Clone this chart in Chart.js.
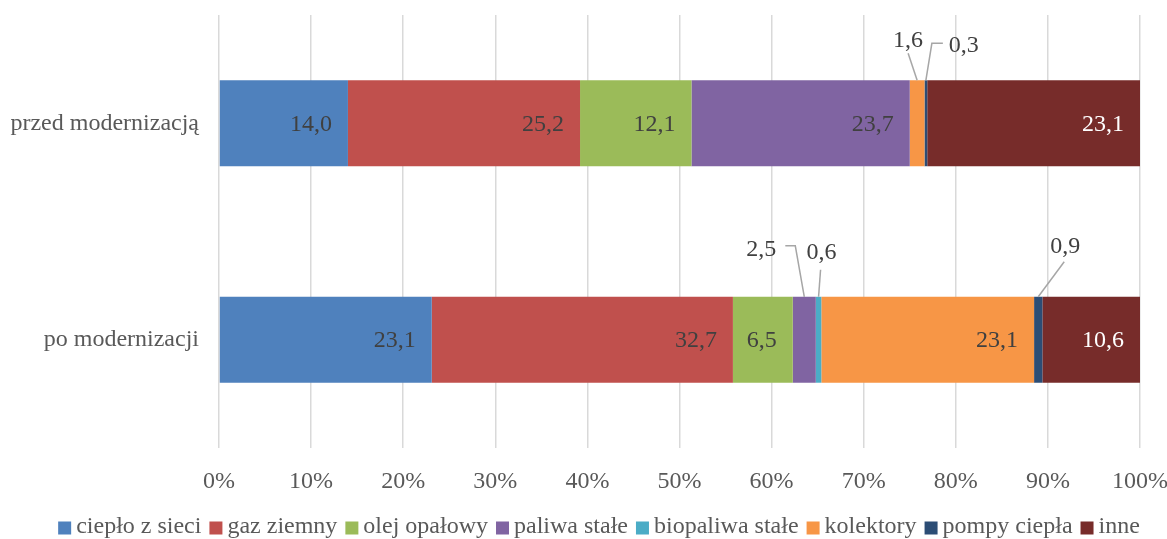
<!DOCTYPE html>
<html>
<head>
<meta charset="utf-8">
<script src="https://cdn.jsdelivr.net/npm/chart.js@4/dist/chart.umd.min.js"></script>
<style>
html,body{margin:0;padding:0;background:#fff;}
#wrap{width:1167px;height:539px;}
</style>
</head>
<body>
<div id="wrap"><canvas id="c" width="1167" height="539"></canvas></div>
<script>
const categories = ['przed modernizacją', 'po modernizacji'];
const seriesNames = ['ciepło z sieci', 'gaz ziemny', 'olej opałowy', 'paliwa stałe', 'biopaliwa stałe', 'kolektory', 'pompy ciepła', 'inne'];
const cieploZSieci   = [14.0, 23.1];
const gazZiemny      = [25.2, 32.7];
const olejOpalowy    = [12.1, 6.5];
const paliwaStale    = [23.7, 2.5];
const biopaliwaStale = [0.0, 0.6];
const kolektory      = [1.6, 23.1];
const pompyCiepla    = [0.3, 0.9];
const inne           = [23.1, 10.6];
const tickValues = [0, 10, 20, 30, 40, 50, 60, 70, 80, 90, 100];

const seriesValues = [cieploZSieci, gazZiemny, olejOpalowy, paliwaStale, biopaliwaStale, kolektory, pompyCiepla, inne];
const colors = ['#4F81BD', '#C0504D', '#9BBB59', '#8064A2', '#4BACC6', '#F79646', '#2C4D75', '#772C2A'];
const labelColors = ['#404040', '#404040', '#404040', '#404040', '#404040', '#404040', '#404040', '#FFFFFF'];

// callout label placement (styling): key "dataset-index": text offset and leader points relative to segment top-center
const callouts = {
  '5-0': {tx: -9, ty: -40, leader: [[0, 0], [-9, -27]]},
  '6-0': {tx: 38, ty: -35, leader: [[0, 0], [6, -37], [17, -37]]},
  '3-1': {tx: -43, ty: -47, leader: [[0, 0], [-9, -51], [-19, -51]]},
  '4-1': {tx: 3, ty: -44, leader: [[0, 0], [2, -27]]},
  '6-1': {tx: 27, ty: -50, leader: [[0, 0], [26, -35]]}
};

const FONT = "'Liberation Serif', 'Times New Roman', serif";

const fmt = v => v.toFixed(1).replace('.', ',');

const labelPlugin = {
  id: 'labels',
  afterDatasetsDraw(chart) {
    const ctx = chart.ctx;
    ctx.save();
    ctx.font = '24px ' + FONT;
    chart.data.datasets.forEach((ds, di) => {
      const meta = chart.getDatasetMeta(di);
      meta.data.forEach((el, i) => {
        const v = ds.data[i];
        if (!v) return;
        const key = di + '-' + i;
        const top = el.y - el.height / 2;
        if (callouts[key]) {
          const c = callouts[key];
          const cx = (el.x + el.base) / 2;
          ctx.strokeStyle = '#A6A6A6';
          ctx.lineWidth = 1.5;
          ctx.beginPath();
          c.leader.forEach((p, k) => {
            if (k === 0) ctx.moveTo(cx + p[0], top + p[1]);
            else ctx.lineTo(cx + p[0], top + p[1]);
          });
          ctx.stroke();
          ctx.fillStyle = '#404040';
          ctx.textAlign = 'center';
          ctx.textBaseline = 'middle';
          ctx.fillText(fmt(v), cx + c.tx, top + c.ty);
        } else {
          ctx.fillStyle = labelColors[di];
          ctx.textAlign = 'right';
          ctx.textBaseline = 'middle';
          ctx.fillText(fmt(v), el.x - 16, el.y + 1);
        }
      });
    });
    ctx.restore();
  }
};

const legendPlugin = {
  id: 'customLegend',
  afterDraw(chart) {
    const ctx = chart.ctx;
    ctx.save();
    ctx.font = '24px ' + FONT;
    const box = 13, gap = 5, spacing = 8;
    const items = chart.data.datasets.map(d => ({text: d.label, color: d.backgroundColor, w: ctx.measureText(d.label).width}));
    let total = 0;
    items.forEach((it, k) => { total += box + gap + it.w + (k < items.length - 1 ? spacing : 0); });
    let x = 599 - total / 2;
    const y = 527;
    items.forEach(it => {
      ctx.fillStyle = it.color;
      ctx.fillRect(x, y - box / 2 + 1, box, box);
      x += box + gap;
      ctx.fillStyle = '#595959';
      ctx.textAlign = 'left';
      ctx.textBaseline = 'middle';
      ctx.fillText(it.text, x, y);
      x += it.w + spacing;
    });
    ctx.restore();
  }
};

const zeroPad = s => { s.paddingLeft = 0; s.paddingRight = 0; s.paddingTop = 0; s.paddingBottom = 0; };

new Chart(document.getElementById('c'), {
  type: 'bar',
  data: {
    labels: categories,
    datasets: seriesNames.map((name, k) => ({
      label: name,
      data: seriesValues[k],
      backgroundColor: colors[k],
      borderWidth: 0,
      barPercentage: 0.397,
      categoryPercentage: 1.0
    }))
  },
  options: {
    indexAxis: 'y',
    responsive: false,
    animation: false,
    layout: {padding: {top: 15, right: 27, left: 0, bottom: 31}},
    plugins: {legend: {display: false}, tooltip: {enabled: false}},
    scales: {
      x: {
        stacked: true,
        min: 0, max: 100,
        afterBuildTicks: s => { s.ticks = tickValues.map(v => ({value: v})); },
        afterFit: s => { s.height = 60; zeroPad(s); },
        ticks: {
          callback: v => v + '%',
          color: '#595959',
          font: {family: FONT, size: 24},
          padding: 19,
          maxRotation: 0
        },
        grid: {color: '#D9D9D9', lineWidth: 1.5, drawTicks: false},
        border: {display: false}
      },
      y: {
        stacked: true,
        afterFit: s => { s.width = 219; zeroPad(s); },
        ticks: {
          color: '#595959',
          font: {family: FONT, size: 24},
          padding: 20
        },
        grid: {display: false, drawTicks: false},
        border: {display: false}
      }
    }
  },
  plugins: [labelPlugin, legendPlugin]
});
</script>
</body>
</html>
